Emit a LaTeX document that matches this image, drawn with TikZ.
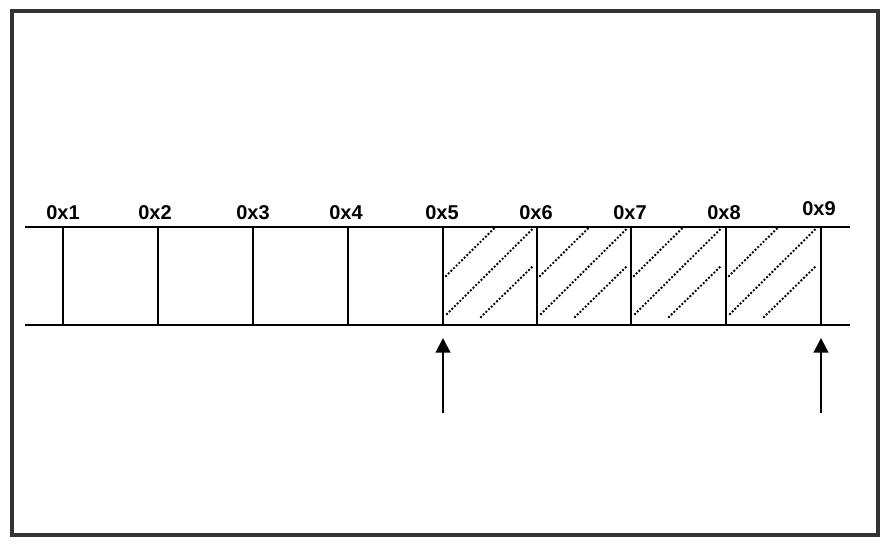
\documentclass[tikz,border=0pt]{standalone}
\usepackage{fontspec}
\setmainfont{Liberation Sans}
\usetikzlibrary{arrows.meta}
\begin{document}
\begin{tikzpicture}[x=0.75pt,y=-0.75pt,
  frame/.style={line width=2.6pt,draw=black!80},
  rail/.style={line width=2.1pt},
  divider/.style={line width=1.6pt},
  hatch/.style={line width=2pt,line cap=round,dash pattern=on 0pt off 2.8pt},
  pointer/.style={line width=1.6pt,-{Triangle[length=11pt,width=11pt]}},
  lbl/.style={font=\bfseries\fontsize{15}{17}\selectfont,inner sep=0pt}]
\useasboundingbox (0,0) rectangle (887,545);
\draw[frame] (12,11) rectangle (878,535);
% rails
\coordinate (tl) at (25,227);
\coordinate (tr) at (850,227);
\coordinate (bl) at (25,325);
\coordinate (br) at (850,325);
\draw[rail] (tl) -- (tr);
\draw[rail] (bl) -- (br);
% dividers and labels
\foreach \i/\x in {1/63,2/158,3/253,4/348,5/443,6/537,7/631,8/726,9/821}{
  \coordinate (t\i) at (\x,227);
  \coordinate (b\i) at (\x,325);
  \draw[divider] (t\i) -- (b\i);
}
\foreach \i/\x/\y in {1/63/213,2/155/213,3/253/213,4/346/213,5/442/213,6/536/213,7/630/213,8/724/213,9/819/209}{
  \node[lbl] (l\i) at (\x,\y) {0x\i};
}
% hatching
\foreach \x in {443,537,631,726}{
  \draw[hatch] (\x+3,276) -- (\x+51,228.5);
  \draw[hatch] (\x+4,314) -- (\x+90,228.5);
  \draw[hatch] (\x+38,317) -- (\x+91,265);
}
% arrows
\coordinate (a1) at (443,413);
\coordinate (a2) at (821,413);
\coordinate (h1) at (443,338);
\coordinate (h2) at (821,338);
\draw[pointer] (a1) -- (h1);
\draw[pointer] (a2) -- (h2);
\end{tikzpicture}
\end{document}
